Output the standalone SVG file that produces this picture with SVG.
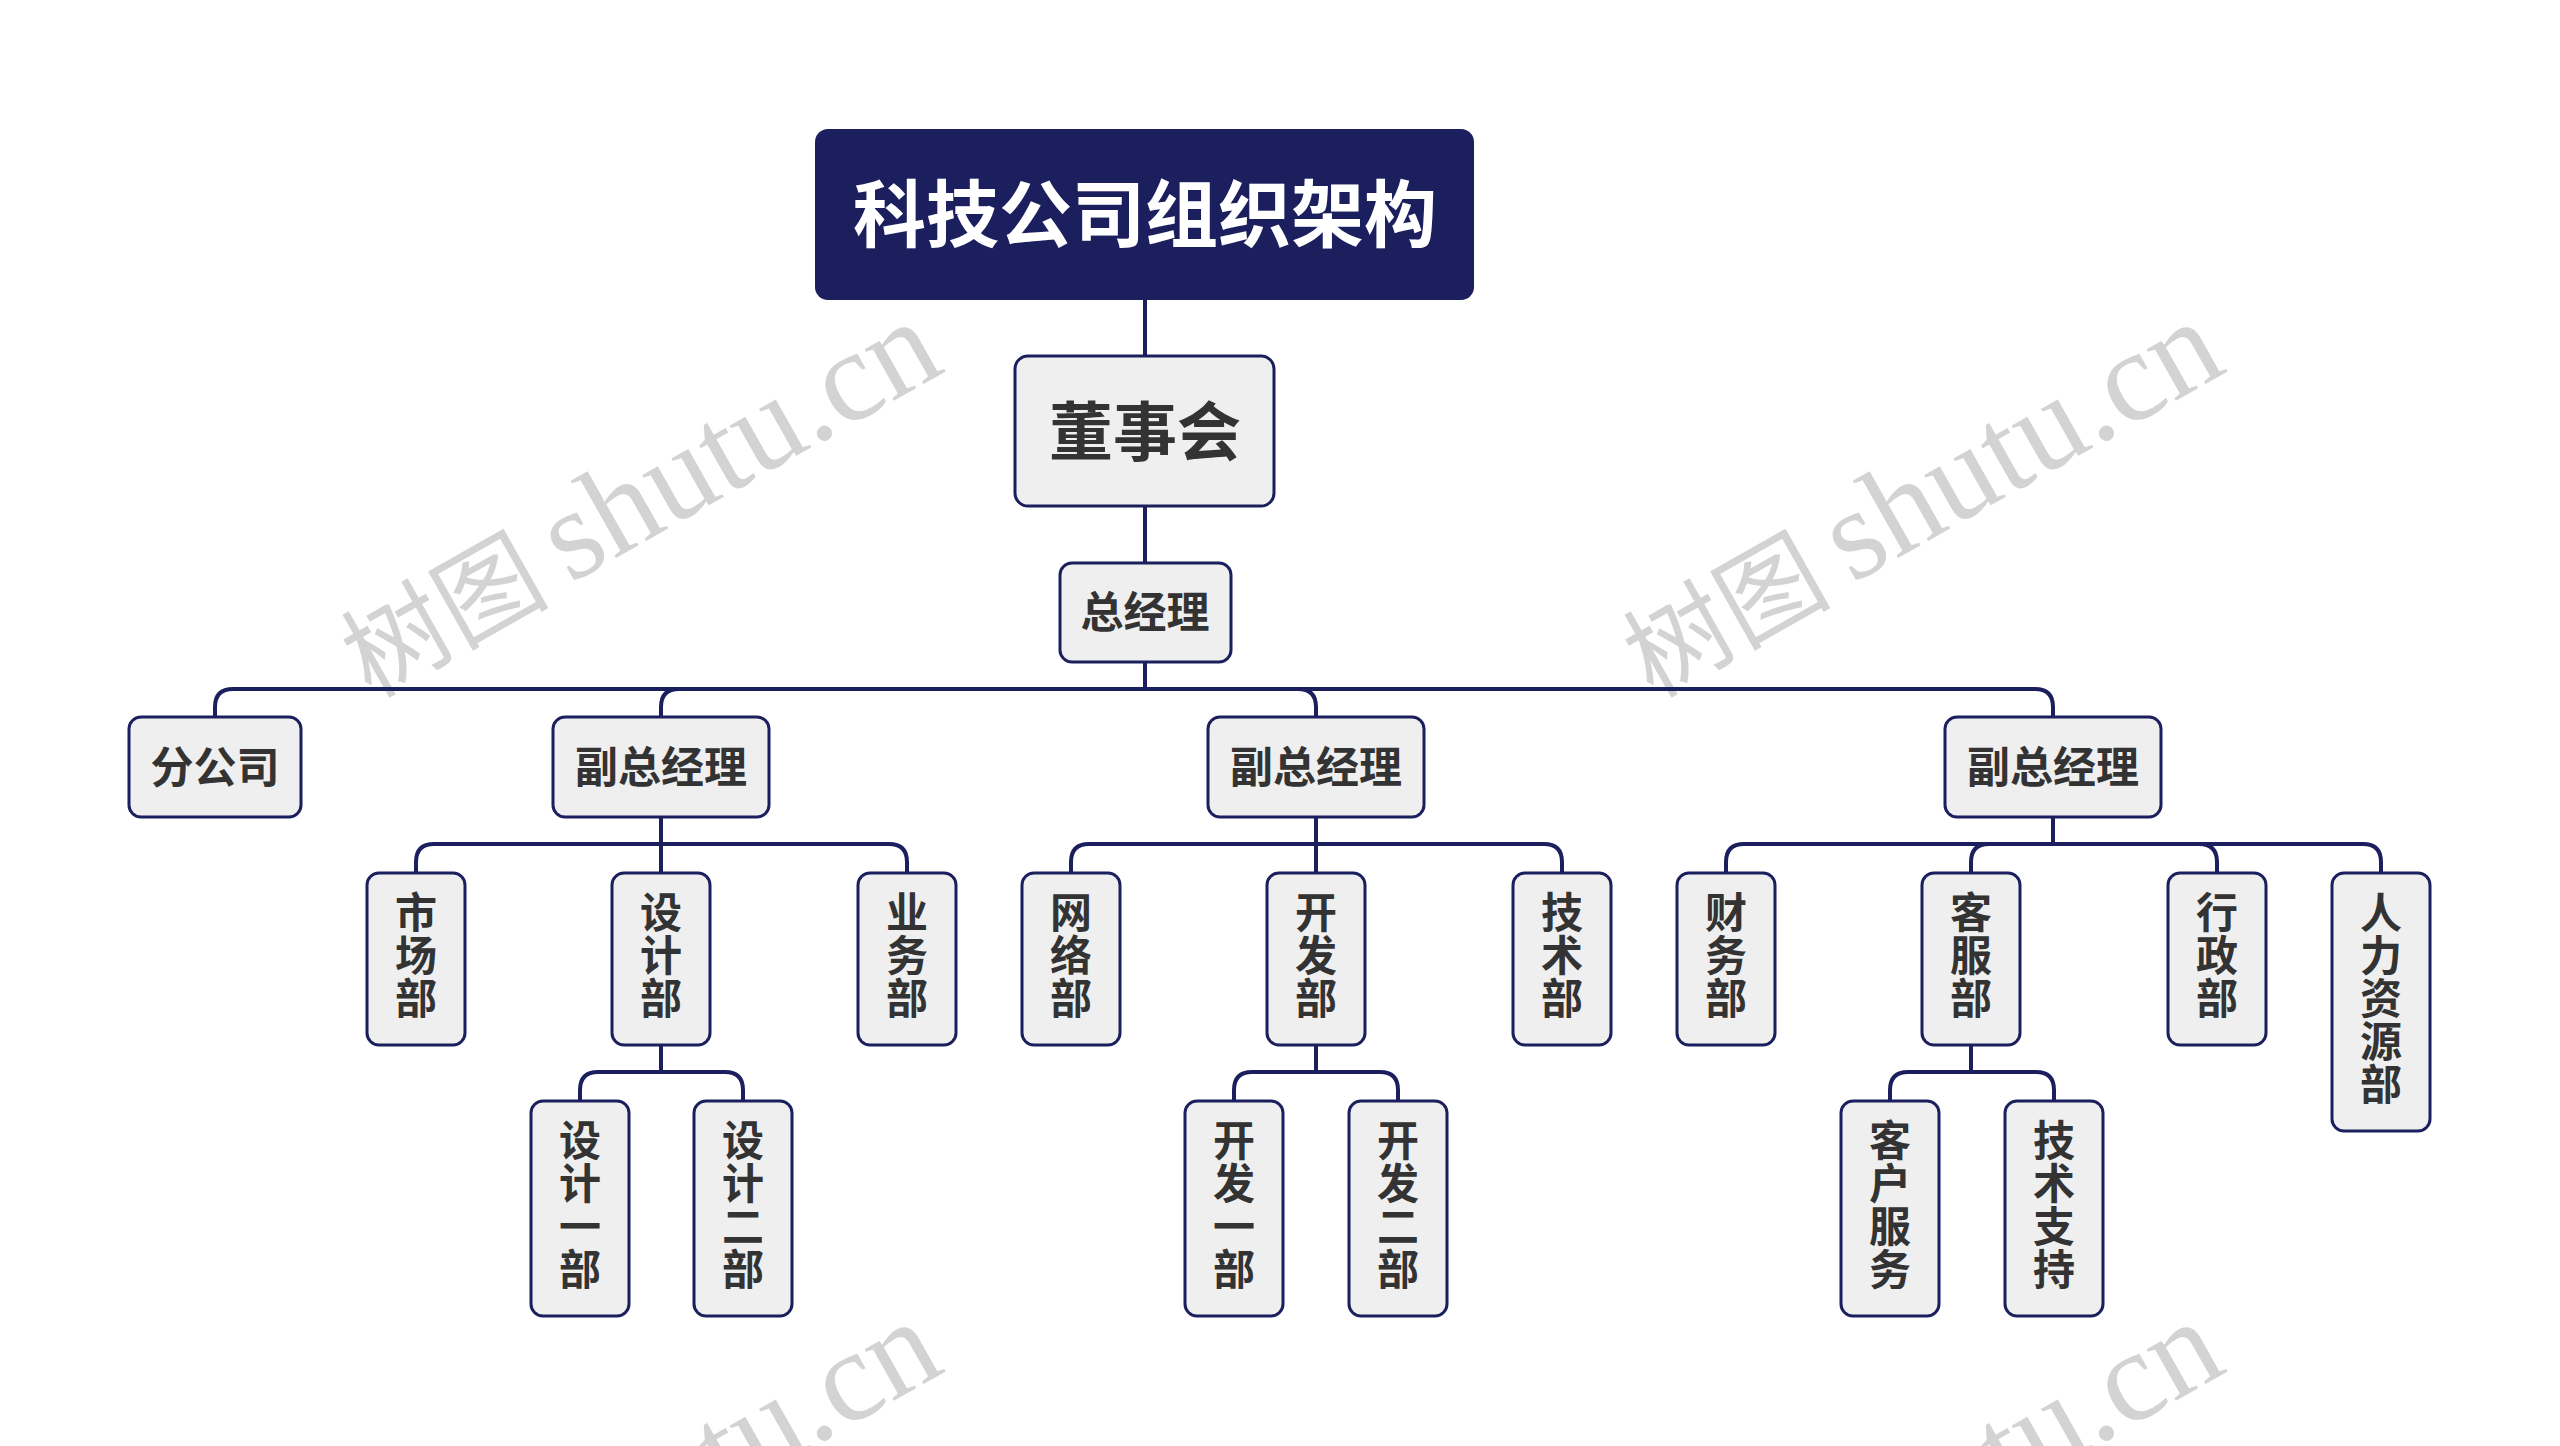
<svg xmlns="http://www.w3.org/2000/svg" width="2560" height="1446" viewBox="0 0 2560 1446">
<style>
.wm{fill:#d3d3d3}
.wmc{font-family:"Noto Sans CJK SC","Noto Sans CJK JP",serif;font-size:104px}
.wml{font-family:"Liberation Serif","DejaVu Serif",serif;font-size:129px}
.node rect{fill:#efefef;stroke:#1b1f5e;stroke-width:3}
.t{font-family:"Noto Sans CJK SC","Noto Sans CJK JP",sans-serif;font-weight:700;fill:#333333;text-anchor:middle}
.s42{font-size:43px}
.v{font-size:42px}
.conn path{fill:none;stroke:#1b1f5e;stroke-width:4}
</style>
<rect width="2560" height="1446" fill="#ffffff"/>
<g id="watermarks" class="wm">
<g transform="translate(570,584) rotate(-29.5)"><text><tspan class="wmc" x="-230" y="2">树图</tspan><tspan class="wml" x="0" y="0">shutu.cn</tspan></text></g>
<g transform="translate(1852,584) rotate(-29.5)"><text><tspan class="wmc" x="-230" y="2">树图</tspan><tspan class="wml" x="0" y="0">shutu.cn</tspan></text></g>
<g transform="translate(570,1584) rotate(-29.5)"><text><tspan class="wmc" x="-230" y="2">树图</tspan><tspan class="wml" x="0" y="0">shutu.cn</tspan></text></g>
<g transform="translate(1852,1584) rotate(-29.5)"><text><tspan class="wmc" x="-230" y="2">树图</tspan><tspan class="wml" x="0" y="0">shutu.cn</tspan></text></g>
</g>
<g id="connectors" class="conn">
<path d="M1145 300V356"/>
<path d="M1145 506V563"/>
<path d="M1145 662V689H233Q215 689 215 707V717"/>
<path d="M1145 689H679Q661 689 661 707V717"/>
<path d="M1145 689H1298Q1316 689 1316 707V717"/>
<path d="M1145 689H2035Q2053 689 2053 707V717"/>
<path d="M661 817V844H434Q416 844 416 862V873"/>
<path d="M661 844V873"/>
<path d="M661 844H889Q907 844 907 862V873"/>
<path d="M1316 817V844H1089Q1071 844 1071 862V873"/>
<path d="M1316 844V873"/>
<path d="M1316 844H1544Q1562 844 1562 862V873"/>
<path d="M2053 817V844H1744Q1726 844 1726 862V873"/>
<path d="M2053 844H1989Q1971 844 1971 862V873"/>
<path d="M2053 844H2199Q2217 844 2217 862V873"/>
<path d="M2053 844H2363Q2381 844 2381 862V873"/>
<path d="M661 1045V1072H598Q580 1072 580 1090V1101"/>
<path d="M661 1072H725Q743 1072 743 1090V1101"/>
<path d="M1316 1045V1072H1252Q1234 1072 1234 1090V1101"/>
<path d="M1316 1072H1380Q1398 1072 1398 1090V1101"/>
<path d="M1971 1045V1072H1908Q1890 1072 1890 1090V1101"/>
<path d="M1971 1072H2036Q2054 1072 2054 1090V1101"/>
</g>
<g id="n-title"><rect x="815" y="129" width="659" height="171" rx="13" fill="#1b1f5e"/><text x="1145" y="241" style="font-family:'Noto Sans CJK SC','Noto Sans CJK JP',sans-serif;font-weight:700;font-size:73px;fill:#ffffff;text-anchor:middle">科技公司组织架构</text></g>
<g id="n-board" class="node"><rect x="1015" y="356" width="259" height="150" rx="13"/><text class="t" x="1145" y="455" style="font-size:64px">董事会</text></g>
<g id="n-gm" class="node"><rect x="1060" y="563" width="171" height="99" rx="12"/><text class="t s42" x="1145" y="628">总经理</text></g>
<g id="n-branch" class="node"><rect x="129" y="717" width="172" height="100" rx="12"/><text class="t s42" x="215" y="783">分公司</text></g>
<g id="n-vp1" class="node"><rect x="553" y="717" width="216" height="100" rx="12"/><text class="t s42" x="661" y="783">副总经理</text></g>
<g id="n-vp2" class="node"><rect x="1208" y="717" width="216" height="100" rx="12"/><text class="t s42" x="1316" y="783">副总经理</text></g>
<g id="n-vp3" class="node"><rect x="1945" y="717" width="216" height="100" rx="12"/><text class="t s42" x="2053" y="783">副总经理</text></g>
<g id="n-market" class="node"><rect x="367" y="873" width="98" height="172" rx="12"/><text class="t v"><tspan x="416" y="927.5">市</tspan><tspan x="416" y="970.5">场</tspan><tspan x="416" y="1013.5">部</tspan></text></g>
<g id="n-design" class="node"><rect x="612" y="873" width="98" height="172" rx="12"/><text class="t v"><tspan x="661" y="927.5">设</tspan><tspan x="661" y="970.5">计</tspan><tspan x="661" y="1013.5">部</tspan></text></g>
<g id="n-business" class="node"><rect x="858" y="873" width="98" height="172" rx="12"/><text class="t v"><tspan x="907" y="927.5">业</tspan><tspan x="907" y="970.5">务</tspan><tspan x="907" y="1013.5">部</tspan></text></g>
<g id="n-network" class="node"><rect x="1022" y="873" width="98" height="172" rx="12"/><text class="t v"><tspan x="1071" y="927.5">网</tspan><tspan x="1071" y="970.5">络</tspan><tspan x="1071" y="1013.5">部</tspan></text></g>
<g id="n-dev" class="node"><rect x="1267" y="873" width="98" height="172" rx="12"/><text class="t v"><tspan x="1316" y="927.5">开</tspan><tspan x="1316" y="970.5">发</tspan><tspan x="1316" y="1013.5">部</tspan></text></g>
<g id="n-tech" class="node"><rect x="1513" y="873" width="98" height="172" rx="12"/><text class="t v"><tspan x="1562" y="927.5">技</tspan><tspan x="1562" y="970.5">术</tspan><tspan x="1562" y="1013.5">部</tspan></text></g>
<g id="n-finance" class="node"><rect x="1677" y="873" width="98" height="172" rx="12"/><text class="t v"><tspan x="1726" y="927.5">财</tspan><tspan x="1726" y="970.5">务</tspan><tspan x="1726" y="1013.5">部</tspan></text></g>
<g id="n-service" class="node"><rect x="1922" y="873" width="98" height="172" rx="12"/><text class="t v"><tspan x="1971" y="927.5">客</tspan><tspan x="1971" y="970.5">服</tspan><tspan x="1971" y="1013.5">部</tspan></text></g>
<g id="n-admin" class="node"><rect x="2168" y="873" width="98" height="172" rx="12"/><text class="t v"><tspan x="2217" y="927.5">行</tspan><tspan x="2217" y="970.5">政</tspan><tspan x="2217" y="1013.5">部</tspan></text></g>
<g id="n-hr" class="node"><rect x="2332" y="873" width="98" height="258" rx="12"/><text class="t v"><tspan x="2381" y="927.5">人</tspan><tspan x="2381" y="970.5">力</tspan><tspan x="2381" y="1013.5">资</tspan><tspan x="2381" y="1056.5">源</tspan><tspan x="2381" y="1099.5">部</tspan></text></g>
<g id="n-design1" class="node"><rect x="531" y="1101" width="98" height="215" rx="12"/><text class="t v"><tspan x="580" y="1155.5">设</tspan><tspan x="580" y="1198.5">计</tspan><tspan x="580" y="1241.5">一</tspan><tspan x="580" y="1284.5">部</tspan></text></g>
<g id="n-design2" class="node"><rect x="694" y="1101" width="98" height="215" rx="12"/><text class="t v"><tspan x="743" y="1155.5">设</tspan><tspan x="743" y="1198.5">计</tspan><tspan x="743" y="1241.5">二</tspan><tspan x="743" y="1284.5">部</tspan></text></g>
<g id="n-dev1" class="node"><rect x="1185" y="1101" width="98" height="215" rx="12"/><text class="t v"><tspan x="1234" y="1155.5">开</tspan><tspan x="1234" y="1198.5">发</tspan><tspan x="1234" y="1241.5">一</tspan><tspan x="1234" y="1284.5">部</tspan></text></g>
<g id="n-dev2" class="node"><rect x="1349" y="1101" width="98" height="215" rx="12"/><text class="t v"><tspan x="1398" y="1155.5">开</tspan><tspan x="1398" y="1198.5">发</tspan><tspan x="1398" y="1241.5">二</tspan><tspan x="1398" y="1284.5">部</tspan></text></g>
<g id="n-custsvc" class="node"><rect x="1841" y="1101" width="98" height="215" rx="12"/><text class="t v"><tspan x="1890" y="1155.5">客</tspan><tspan x="1890" y="1198.5">户</tspan><tspan x="1890" y="1241.5">服</tspan><tspan x="1890" y="1284.5">务</tspan></text></g>
<g id="n-support" class="node"><rect x="2005" y="1101" width="98" height="215" rx="12"/><text class="t v"><tspan x="2054" y="1155.5">技</tspan><tspan x="2054" y="1198.5">术</tspan><tspan x="2054" y="1241.5">支</tspan><tspan x="2054" y="1284.5">持</tspan></text></g>
</svg>
